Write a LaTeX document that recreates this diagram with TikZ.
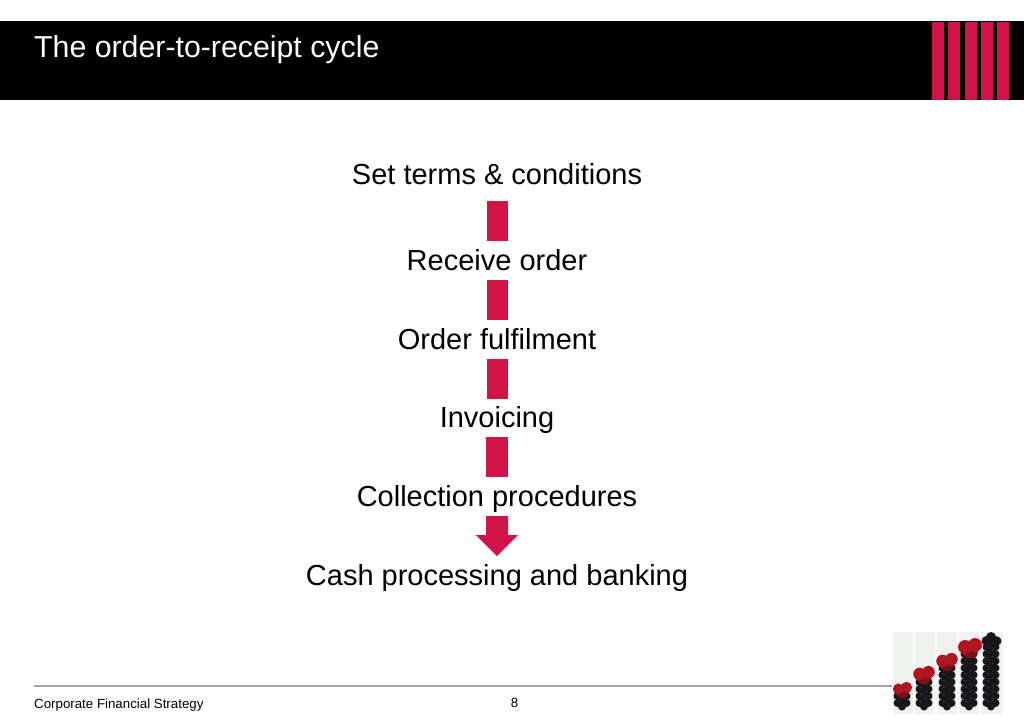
\documentclass[tikz,border=0pt]{standalone}
\usepackage{fontspec}
\setmainfont{Liberation Sans}
\usetikzlibrary{calc}
\definecolor{crim}{RGB}{208,20,72}
\definecolor{rosered}{RGB}{176,22,32}
\definecolor{rosedark}{RGB}{120,16,24}
\definecolor{berry}{RGB}{24,22,26}
\definecolor{berrylite}{RGB}{58,56,62}
\definecolor{jar}{RGB}{240,242,240}
\tikzset{
  stepfont/.style={font=\fontsize{29}{34}\selectfont, text=black, inner sep=0pt, anchor=base},
  foot/.style={font=\fontsize{13.3}{15}\selectfont, text=black, inner sep=0pt},
  bar/.style={fill=crim, draw=none},
  berries/.style={fill=berry, draw=none},
  glint/.style={fill=berrylite, draw=none},
  rosette/.style={fill=rosered, draw=none},
  rosetteb/.style={fill=rosedark, draw=none},
  jarbox/.style={fill=jar, draw=none}
}
\begin{document}
\begin{tikzpicture}[x=1pt,y=-1pt]
\useasboundingbox (0,0) rectangle (1024,724);
\fill[white] (0,0) rectangle (1024,724);
% header
\fill[black] (0,21) rectangle (1024,100);
\foreach \a in {932,948,965,981,997}{\fill[crim] (\a,22) rectangle ++(12,78);}
\node[font=\fontsize{30.3}{34}\selectfont, text=white, inner sep=0pt, anchor=base west] (title) at (34,57) {The order-to-receipt cycle};
% steps
\node[stepfont] (s1) at (497,184) {Set terms \& conditions};
\node[stepfont] (s2) at (497,270) {Receive order};
\node[stepfont] (s3) at (497,349) {Order fulfilment};
\node[stepfont] (s4) at (497,427.5) {Invoicing};
\node[stepfont] (s5) at (497,506.5) {Collection procedures};
\node[stepfont] (s6) at (497,585.5) {Cash processing and banking};
% block connectors
\fill[bar] (487,201) rectangle (508,241);
\fill[bar] (487,280) rectangle (508,320);
\fill[bar] (487,359) rectangle (508,399);
\fill[bar] (486,437) rectangle (508,477);
\fill[bar] (486,516) -- (508,516) -- (508,535) -- (518,535) -- (497,556) -- (476,535) -- (486,535) -- cycle;
% footer
\draw[draw=gray!70, line width=1.2pt] (34,686) -- (892,686);
\node[foot, anchor=base west] (ft) at (34,708) {Corporate Financial Strategy};
\node[foot, anchor=base] (pg) at (514.5,707.5) {8};
% photo of jars
\foreach \a/\b in {893/913,915/935,937/957,959/979,981/1003}{\fill[jarbox] (\a,632) rectangle (\b,714);}
\foreach \cx/\top in {902/696,924/682,947/668,969/654,991/640}{
  \foreach \dy in {0,7,...,70}{
    \pgfmathsetmacro{\yc}{\top+\dy}
    \pgfmathparse{\yc<708?1:0}
    \ifnum\pgfmathresult=1
      \fill[berries] (\cx-4.5,\yc) circle (4);
      \fill[berries] (\cx+4.5,\yc) circle (4);
      \fill[berries] (\cx,\yc+3.5) circle (4);
      \fill[glint] (\cx-3,\yc-1.5) circle (1);
      \fill[glint] (\cx+2,\yc+2.5) circle (.8);
    \fi
  }
}
\fill[berries] (991,637) circle (5);\fill[berries] (986,641) circle (4.5);\fill[berries] (997,641) circle (4.5);
\foreach \cx/\cy/\r in {902.5/689/8,924/674/9,947/661/9,970/647/10}{
  \fill[rosetteb] (\cx,\cy+\r*.35) circle (\r*.8);
  \fill[rosette] (\cx-\r*.5,\cy) circle (\r*.7);
  \fill[rosette] (\cx+\r*.5,\cy-\r*.2) circle (\r*.7);
}
\end{tikzpicture}
\end{document}
